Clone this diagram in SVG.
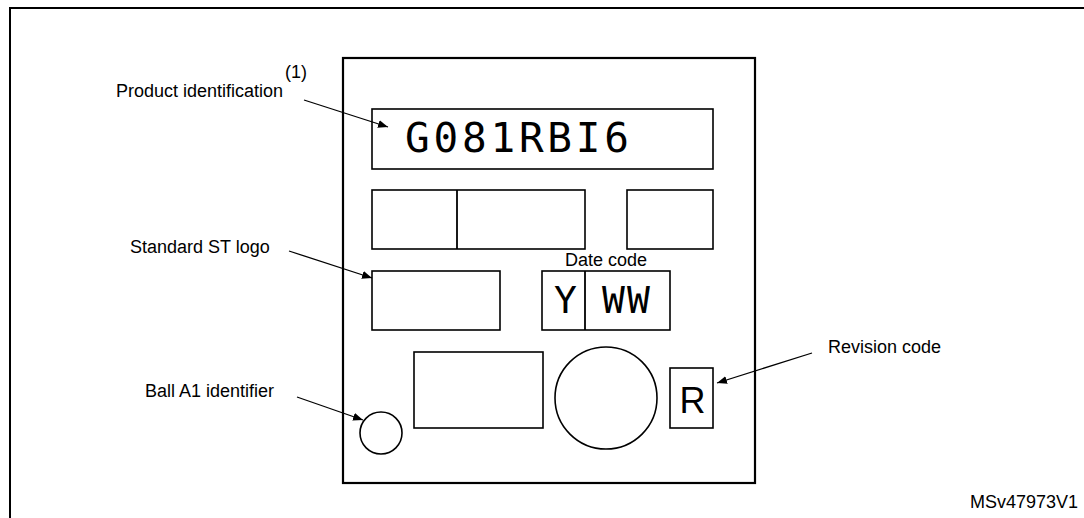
<svg xmlns="http://www.w3.org/2000/svg" width="1084" height="518" viewBox="0 0 1084 518">
  <style>
    .frame { fill: none; stroke: #000; stroke-width: 2; }
    .pkg { fill: #fff; stroke: #000; stroke-width: 2.2; }
    .box { fill: #fff; stroke: #000; stroke-width: 1.6; }
    .lbl { font-family: "Liberation Sans", Arial, sans-serif; font-size: 18px; fill: #000; }
    .mark { font-family: "DejaVu Sans Mono", monospace; fill: #000; }
    .conn { stroke: #000; stroke-width: 1.3; fill: none; marker-end: url(#ah); }
  </style>
  <defs>
    <marker id="ah" viewBox="0 0 10 8" refX="10" refY="4" markerWidth="10" markerHeight="8" markerUnits="userSpaceOnUse" orient="auto">
      <path d="M0,0 L10,4 L0,8 Z" fill="#000"/>
    </marker>
  </defs>
  <rect width="1084" height="518" fill="#fff"/>
  <rect class="frame" x="10" y="8" width="1090" height="530"/>

  <g id="package">
    <rect class="pkg" x="343" y="58" width="412" height="425"/>
  </g>

  <g id="product-id-box">
    <rect class="box" x="372" y="109" width="341" height="60"/>
    <text class="mark" x="405" y="152" font-size="41" textLength="224" lengthAdjust="spacing">G081RBI6</text>
  </g>

  <g id="row2-left">
    <rect class="box" x="372" y="190" width="213" height="59"/>
    <line x1="457" y1="190" x2="457" y2="249" stroke="#000" stroke-width="1.8"/>
  </g>
  <g id="row2-right">
    <rect class="box" x="627" y="190" width="86" height="59"/>
  </g>

  <g id="st-logo-box">
    <rect class="box" x="372" y="271" width="128" height="59"/>
  </g>

  <g id="date-code">
    <rect class="box" x="542" y="271" width="128" height="59"/>
    <line x1="585" y1="271" x2="585" y2="330" stroke="#000" stroke-width="1.8"/>
    <text class="lbl" x="606" y="266" text-anchor="middle">Date code</text>
    <text class="mark" x="565.5" y="313" font-size="38" text-anchor="middle">Y</text>
    <text class="mark" x="627" y="313" font-size="38" text-anchor="middle" letter-spacing="2">WW</text>
  </g>

  <g id="bottom-rect">
    <rect class="box" x="414" y="352" width="129" height="76"/>
  </g>
  <g id="big-circle">
    <circle class="box" cx="606" cy="398" r="51"/>
  </g>
  <g id="revision-box">
    <rect class="box" x="670" y="368" width="43" height="60"/>
    <text x="692.5" y="413" font-family="Liberation Sans, Arial, sans-serif" font-size="36" text-anchor="middle">R</text>
  </g>
  <g id="ball-a1">
    <circle class="box" cx="381" cy="433" r="21"/>
  </g>

  <g id="labels">
    <text class="lbl" x="116" y="97">Product identification</text>
    <text class="lbl" x="285" y="78" font-size="16">(1)</text>
    <text class="lbl" x="130" y="253">Standard ST logo</text>
    <text class="lbl" x="145" y="397">Ball A1 identifier</text>
    <text class="lbl" x="828" y="353">Revision code</text>
    <text class="lbl" x="1078" y="508" font-size="16" text-anchor="end">MSv47973V1</text>
  </g>

  <g id="connectors">
    <line class="conn" x1="304" y1="100" x2="388" y2="127"/>
    <line class="conn" x1="289" y1="251" x2="372" y2="278"/>
    <line class="conn" x1="297" y1="397" x2="363" y2="420"/>
    <line class="conn" x1="812" y1="353" x2="717" y2="383"/>
  </g>
</svg>
